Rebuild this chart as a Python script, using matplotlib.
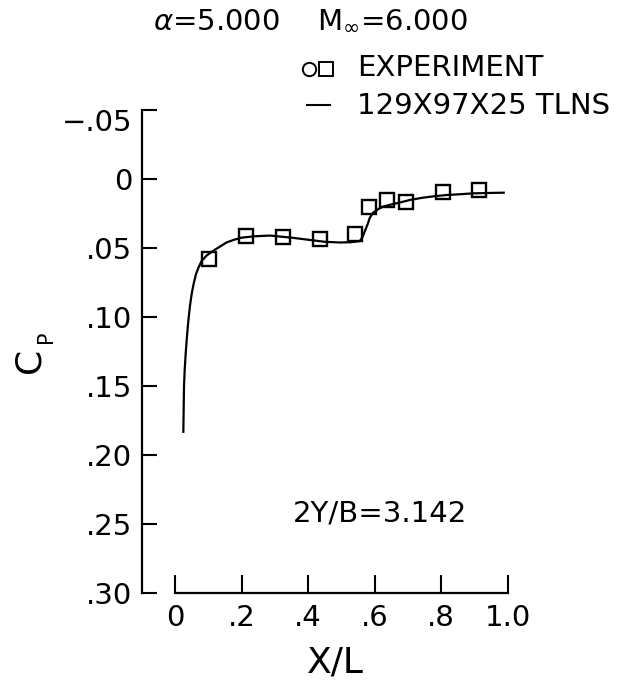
import matplotlib
matplotlib.use("Agg")
import matplotlib.pyplot as plt
import matplotlib.transforms as mtransforms
from matplotlib.lines import Line2D

# Experiment data
exp_x = [0.102, 0.214, 0.325, 0.436, 0.541, 0.584, 0.638, 0.695, 0.805, 0.915]
exp_cp = [0.058, 0.041, 0.042, 0.0435, 0.040, 0.020, 0.015, 0.0167, 0.0094, 0.0082]

# TLNS computation
tlns_x = [0.025, 0.026, 0.027, 0.029, 0.032, 0.036, 0.040, 0.045, 0.050, 0.056, 0.063,
          0.071, 0.080, 0.095, 0.115, 0.135, 0.155, 0.178, 0.20, 0.24, 0.286, 0.35,
          0.40, 0.45, 0.496, 0.53, 0.556, 0.564, 0.571, 0.579, 0.586, 0.596, 0.61,
          0.626, 0.65, 0.677, 0.71, 0.747, 0.78, 0.817, 0.86, 0.897, 0.95, 0.992]
tlns_cp = [0.184, 0.168, 0.151, 0.139, 0.127, 0.114, 0.103, 0.092, 0.0835, 0.076, 0.069,
           0.064, 0.0594, 0.0555, 0.052, 0.049, 0.046, 0.044, 0.0425, 0.0415, 0.041, 0.0425,
           0.044, 0.0455, 0.046, 0.0458, 0.045, 0.042, 0.0377, 0.033, 0.028, 0.0244, 0.022,
           0.020, 0.0185, 0.017, 0.015, 0.0135, 0.0125, 0.0116, 0.011, 0.0104, 0.0101, 0.0099]

yticks = [-0.05, 0, 0.05, 0.10, 0.15, 0.20, 0.25, 0.30]
ytick_labels = ["\u2212.05", "0", ".05", ".10", ".15", ".20", ".25", ".30"]
xticks = [0, 0.2, 0.4, 0.6, 0.8, 1.0]
xtick_labels = ["0", ".2", ".4", ".6", ".8", "1.0"]

plt.rcParams['font.family'] = ['DejaVu Sans']
plt.rcParams['mathtext.fontset'] = 'dejavusans'

W, H = 628, 685
fig = plt.figure(figsize=(W / 100, H / 100), dpi=100)
ax = fig.add_axes([141.75 / W, 1 - 593 / H, (507.5 - 141.75) / W, (593 - 110) / H])

ax.plot(tlns_x, tlns_cp, color='black', lw=1.6, solid_capstyle='butt')
ax.plot(exp_x, exp_cp, linestyle='none', marker='s', markersize=10.5,
        markerfacecolor='none', markeredgecolor='black', markeredgewidth=1.7)

ax.set_xlim(-0.1, 1.0)
ax.set_ylim(0.30, -0.05)

for s in ['top', 'right']:
    ax.spines[s].set_visible(False)
ax.spines['left'].set_bounds(-0.05, 0.30)
ax.spines['bottom'].set_bounds(0, 1.0)
ax.spines['left'].set_linewidth(1.6)
ax.spines['bottom'].set_linewidth(1.6)

ax.set_yticks(yticks)
ax.set_yticklabels(ytick_labels)
ax.set_xticks(xticks)
ax.set_xticklabels(xtick_labels)
ax.tick_params(axis='both', direction='in', width=1.5, labelsize=21)
ax.tick_params(axis='y', length=11, pad=7)
ax.tick_params(axis='x', length=13, pad=8)

# top y label sits a little below its tick in the reference
lab0 = ax.get_yticklabels()[0]
lab0.set_transform(lab0.get_transform() +
                   mtransforms.ScaledTranslation(0, -0.10, fig.dpi_scale_trans))

# axis label C_P (rotated)
fig.text(29 / W, 1 - 360 / H, "C", rotation=90, fontsize=26, ha='center', va='center')
fig.text(46 / W, 1 - 337 / H, "P", rotation=90, fontsize=15, ha='center', va='center')

fig.text(335 / W, 1 - 663 / H, "X/L", fontsize=26, ha='center', va='center')
fig.text(380 / W, 1 - 513 / H, "2Y/B=3.142", fontsize=21, ha='center', va='center')

fig.text(310 / W, 1 - 20 / H, r"$\alpha$=5.000    M$_\infty$=6.000", fontsize=21,
         ha='center', va='center')

# legend
fig.add_artist(Line2D([309 / W], [1 - 68.5 / H], marker='o', markersize=9.6,
                      markerfacecolor='none', markeredgecolor='black',
                      markeredgewidth=1.4, transform=fig.transFigure))
fig.add_artist(Line2D([326 / W], [1 - 68.5 / H], marker='s', markersize=10,
                      markerfacecolor='none', markeredgecolor='black',
                      markeredgewidth=1.4, transform=fig.transFigure))
fig.text(357 / W, 1 - 68 / H, "EXPERIMENT", fontsize=21, ha='left', va='center')
fig.add_artist(Line2D([307 / W, 330 / W], [1 - 105 / H, 1 - 105 / H], color='black',
                      lw=1.5, transform=fig.transFigure))
fig.text(357 / W, 1 - 106 / H, "129X97X25 TLNS", fontsize=21, ha='left', va='center')

fig.savefig("out.png", dpi=100)
